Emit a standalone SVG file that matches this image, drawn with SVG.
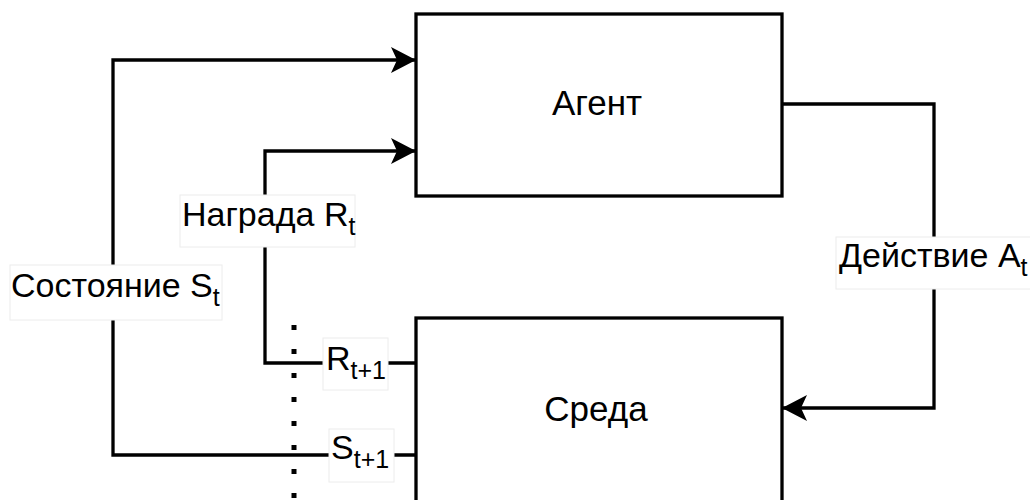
<svg xmlns="http://www.w3.org/2000/svg" width="1030" height="500" viewBox="0 0 1030 500">
<style>
.box{fill:#fff;stroke:#000;stroke-width:3.3}
.ln{fill:none;stroke:#000;stroke-width:3.3}
.t{font-family:"Liberation Sans",Arial,sans-serif;font-size:34px;fill:#000}
.bt{font-size:35px}
.s{font-size:25px}
.lb{fill:#fff;stroke:#ececec;stroke-width:1}
.dots{fill:none;stroke:#000;stroke-width:5;stroke-dasharray:5 19}
</style>
<defs>
<marker id="arr" markerUnits="userSpaceOnUse" viewBox="0 0 25 26" refX="25" refY="13" markerWidth="25" markerHeight="26" orient="auto">
<path d="M0,0 L25,13 L0,26 L6,13 Z" fill="#000"/>
</marker>
</defs>
<rect width="1030" height="500" fill="#fff"/>
<g id="connectors">
<polyline class="ln" points="782,104 934,104 934,408 782,408" marker-end="url(#arr)"/>
<polyline class="ln" points="416,455 113,455 113,60 416,60" marker-end="url(#arr)"/>
<polyline class="ln" points="416,363 265,363 265,151 416,151" marker-end="url(#arr)"/>
<line class="dots" x1="294" y1="325" x2="294" y2="500"/>
</g>
<g id="agent">
<rect class="box" x="416" y="14" width="366" height="182"/>
<text class="t bt" x="597" y="115" text-anchor="middle">Агент</text>
</g>
<g id="environment">
<rect class="box" x="416" y="318" width="366" height="190"/>
<text class="t bt" x="596" y="421" text-anchor="middle">Среда</text>
</g>
<g id="label-reward">
<rect class="lb" x="180" y="195" width="175" height="52"/>
<text class="t" x="182" y="226">Награда R<tspan class="s" dy="9">t</tspan></text>
</g>
<g id="label-state">
<rect class="lb" x="10" y="265" width="212" height="55"/>
<text class="t" x="11" y="297">Состояние S<tspan class="s" dy="9">t</tspan></text>
</g>
<g id="label-action">
<rect class="lb" x="836" y="237" width="200" height="52"/>
<text class="t" x="839" y="267">Действие A<tspan class="s" dy="9">t</tspan></text>
</g>
<g id="label-r1">
<rect class="lb" x="323" y="338" width="65" height="52"/>
<text class="t" x="326" y="370">R<tspan class="s" dy="9">t+1</tspan></text>
</g>
<g id="label-s1">
<rect class="lb" x="329" y="429" width="65" height="53"/>
<text class="t" x="331" y="459">S<tspan class="s" dy="9">t+1</tspan></text>
</g>
</svg>
